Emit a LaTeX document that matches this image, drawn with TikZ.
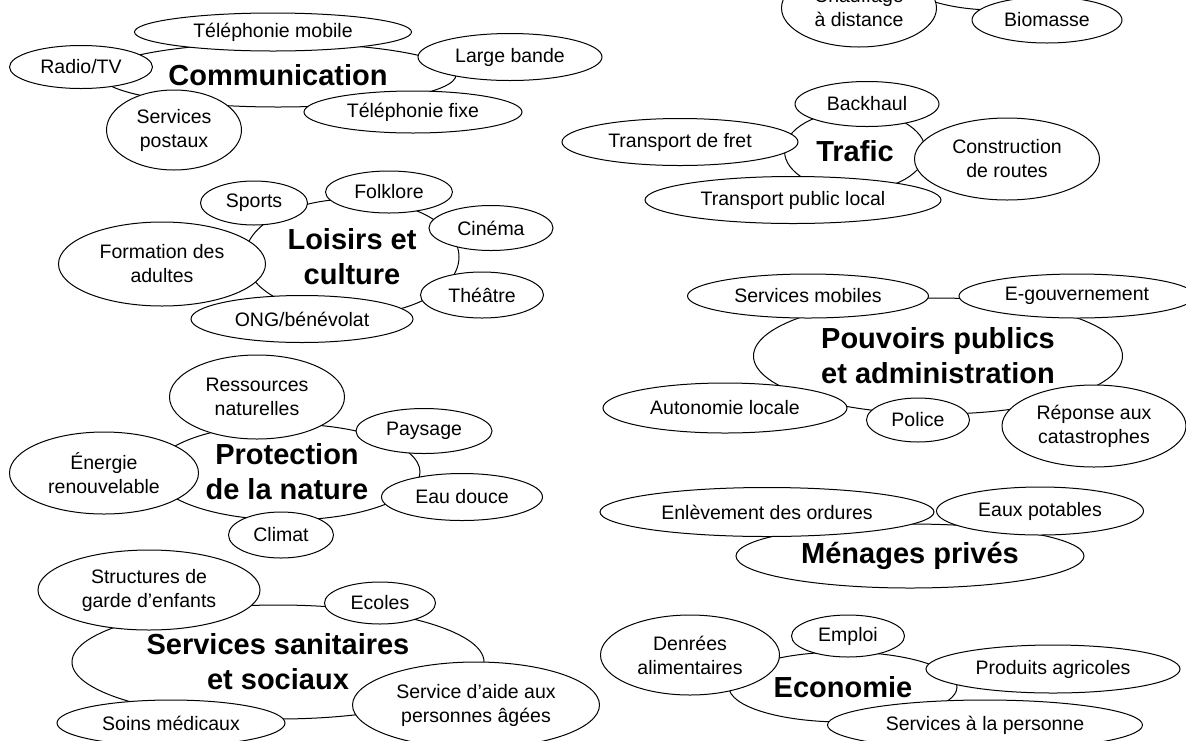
\documentclass[tikz,border=0pt]{standalone}
\usepackage{fontspec}
\setmainfont{Liberation Sans}
\usetikzlibrary{shapes.geometric}

\begin{document}
\begin{tikzpicture}[x=1pt, y=-1pt,
		sat/.style 2 args={ellipse, draw, fill=white, line width=1pt, inner sep=0pt, minimum width=#1pt, minimum height=#2pt, align=center, font=\fontsize{19.5}{24}\selectfont},
		hub/.style 2 args={sat={#1}{#2}, font=\fontsize{29}{35}\selectfont\bfseries}]
	\useasboundingbox (0,0) rectangle (1186,740);
	\clip (0,0) rectangle (1186,740);

	\node[hub={356}{64}] (comm) at (278,75) {Communication};
	\node[sat={277}{38}] (telmob) at (273,32) {Téléphonie mobile};
	\node[sat={143}{43}] (radio) at (81,67) {Radio/TV};
	\node[sat={184}{47}] (large) at (510,57) {Large bande};
	\node[sat={218}{42}] (telfix) at (413,112) {Téléphonie fixe};
	\node[sat={135}{80}] (poste) at (174,130) {Services\\postaux};

	\node[hub={214}{116}] (loisirs) at (352,257) {Loisirs et\\culture};
	\node[sat={107}{44}] (sports) at (254,203) {Sports};
	\node[sat={127}{42}] (folk) at (389,192) {Folklore};
	\node[sat={124}{45}] (cine) at (491,228) {Cinéma};
	\node[sat={123}{46}] (theatre) at (482,295) {Théâtre};
	\node[sat={207}{84}] (formation) at (162,264) {Formation des\\adultes};
	\node[sat={222}{47}] (ong) at (302,319) {ONG/bénévolat};

	\node[hub={266}{96}] (nature) at (287,472) {Protection\\de la nature};
	\node[sat={175}{84}] (ress) at (257,397) {Ressources\\naturelles};
	\node[sat={136}{45}] (paysage) at (424,431) {Paysage};
	\node[sat={189}{82}] (energie) at (104,473) {Énergie\\renouvelable};
	\node[sat={161}{47}] (eau) at (462,497) {Eau douce};
	\node[sat={105}{46}] (climat) at (281,535) {Climat};

	\node[hub={412}{114}] (sante) at (278,662) {Services sanitaires\\et sociaux};
	\node[sat={222}{80}] (creche) at (149,590) {Structures de\\garde d’enfants};
	\node[sat={111}{42}] (ecoles) at (380,603) {Ecoles};
	\node[sat={247}{86}] (aines) at (476,705) {Service d’aide aux\\personnes âgées};
	\node[sat={228}{46}] (soins) at (171,723) {Soins médicaux};

	\node[hub={200}{80}] (chaleur) at (995,-30) {};
	\node[sat={155}{78}] (distance) at (859,8) {Chauffage\\à distance};
	\node[sat={150}{46}] (biomasse) at (1047,20) {Biomasse};

	\node[hub={141}{80}] (trafic) at (855,151) {Trafic};
	\node[sat={144}{45}] (backhaul) at (867,104) {Backhaul};
	\node[sat={236}{47}] (fret) at (680,142) {Transport de fret};
	\node[sat={185}{82}] (routes) at (1007,159) {Construction\\de routes};
	\node[sat={296}{47}] (tpl) at (793,200) {Transport public local};

	\node[hub={369}{116}] (admin) at (938,356) {Pouvoirs publics\\et administration};
	\node[sat={241}{44}] (mobiles) at (808,296) {Services mobiles};
	\node[sat={236}{44}] (egov) at (1077,296) {E-gouvernement};
	\node[sat={244}{50}] (autonomie) at (725,408) {Autonomie locale};
	\node[sat={103}{44}] (police) at (918,420) {Police};
	\node[sat={184}{82}] (reponse) at (1094,426) {Réponse aux\\catastrophes};

	\node[hub={348}{64}] (menages) at (910,556) {Ménages privés};
	\node[sat={334}{49}] (ordures) at (767,512) {Enlèvement des ordures};
	\node[sat={207}{48}] (potable) at (1040,511) {Eaux potables};

	\node[hub={228}{70}] (eco) at (843,687) {Economie};
	\node[sat={179}{80}] (denrees) at (690,655) {Denrées\\alimentaires};
	\node[sat={113}{42}] (emploi) at (848,636) {Emploi};
	\node[sat={254}{48}] (agri) at (1053,669) {Produits agricoles};
	\node[sat={315}{50}] (perso) at (985,725) {Services à la personne};
\end{tikzpicture}
\end{document}
